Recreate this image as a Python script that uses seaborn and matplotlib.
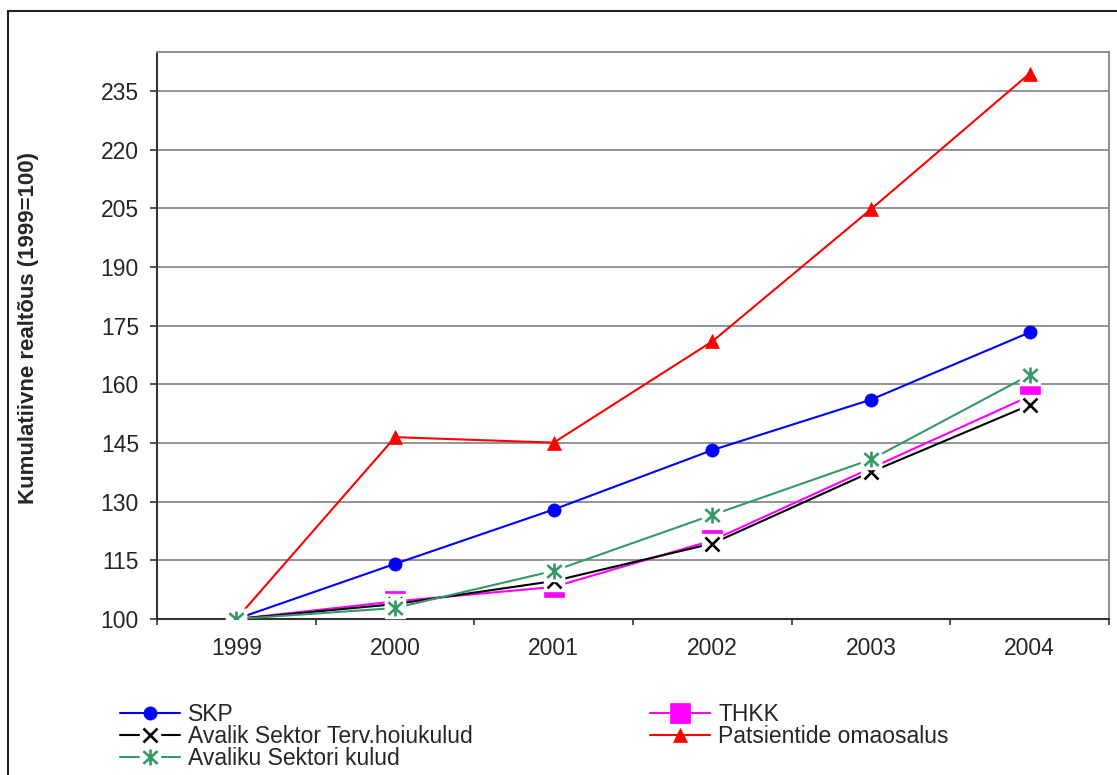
import matplotlib
matplotlib.use("Agg")
import matplotlib.pyplot as plt
from matplotlib.lines import Line2D
from matplotlib.path import Path
from matplotlib.patches import Rectangle
from matplotlib.legend_handler import HandlerBase
import seaborn as sns
import pandas as pd

# Cumulative real growth indices, 1999 = 100
years = ["1999", "2000", "2001", "2002", "2003", "2004"]
skp = [100, 114.1, 128.0, 143.2, 156.1, 173.3]
thkk = [100, 104.5, 108.2, 120.1, 138.6, 157.0]
avalik_terv = [100, 103.8, 109.7, 119.3, 137.6, 154.7]
patsiendid = [100, 146.5, 145.1, 171.0, 204.8, 239.5]
avaliku_kulud = [100, 102.8, 112.3, 126.6, 140.8, 162.4]

series_names = ["SKP", "THKK", "Avalik Sektor Terv.hoiukulud",
                "Patsientide omaosalus", "Avaliku Sektori kulud"]
series_values = [skp, thkk, avalik_terv, patsiendid, avaliku_kulud]
yticks = list(range(100, 236, 15))

colors = {
    "SKP": "#0000FF",
    "THKK": "#FF00FF",
    "Avalik Sektor Terv.hoiukulud": "#000000",
    "Patsientide omaosalus": "#FF0000",
    "Avaliku Sektori kulud": "#339966",
}

# asterisk marker: vertical stroke plus a cross
star_path = Path(
    [(0, -1), (0, 1), (-0.9, -0.8), (0.9, 0.8), (-0.9, 0.8), (0.9, -0.8)],
    [Path.MOVETO, Path.LINETO, Path.MOVETO, Path.LINETO, Path.MOVETO, Path.LINETO],
)

# marker spec: (marker, size, filled, white box behind)
marker_spec = {
    "SKP": ("o", 9.5, True, False),
    "THKK": ("s", 14, True, False),
    "Avalik Sektor Terv.hoiukulud": ("x", 10.5, False, True),
    "Patsientide omaosalus": ("^", 10.5, True, False),
    "Avaliku Sektori kulud": (star_path, 11.5, False, True),
}
BOX_SIZE = 14
LW = 1.5

df = pd.DataFrame({
    "Aasta": years * len(series_names),
    "Väärtus": [v for vals in series_values for v in vals],
    "Seeria": [n for n in series_names for _ in years],
})

sns.set_style("white")
plt.rcParams["font.family"] = ["Liberation Sans", "DejaVu Sans"]

fig = plt.figure(figsize=(11.17, 7.75), dpi=100)
ax = fig.add_axes([157 / 1117, 1 - 619 / 775, (1109 - 157) / 1117, (619 - 52) / 775])

sns.lineplot(data=df, x="Aasta", y="Väärtus", hue="Seeria", palette=colors,
             hue_order=series_names, linewidth=LW, sort=False, legend=False,
             ax=ax, zorder=3)


def marker_kwargs(name):
    mk, ms, filled, _ = marker_spec[name]
    c = colors[name]
    if filled:
        return dict(marker=mk, markersize=ms, markerfacecolor=c, markeredgecolor=c,
                    markeredgewidth=0.5)
    return dict(marker=mk, markersize=ms, markerfacecolor="none", markeredgecolor=c,
                markeredgewidth=1.9)


z = 4
for name, vals in zip(series_names, series_values):
    if marker_spec[name][3]:
        ax.plot(years, vals, ls="none", marker="s", markersize=BOX_SIZE,
                markerfacecolor="white", markeredgecolor="white", zorder=z)
        z += 0.1
    ax.plot(years, vals, ls="none", zorder=z, **marker_kwargs(name))
    z += 0.1

ax.set_xlim(-0.5, len(years) - 0.5)
ax.set_ylim(100, 245)
ax.set_yticks(yticks)
ax.set_xlabel("")
ax.set_ylabel("")

ax.yaxis.grid(True, color="#808080", linewidth=1.2)
ax.xaxis.grid(False)
ax.set_axisbelow(True)

for side in ("top", "right"):
    ax.spines[side].set_color("#909090")
    ax.spines[side].set_linewidth(1.5)
for side in ("left", "bottom"):
    ax.spines[side].set_color("#333333")
    ax.spines[side].set_linewidth(1.5)

ax.tick_params(axis="y", which="major", direction="out", length=5, width=1.2,
               color="#333333", labelsize=16.5, pad=8, left=True)
ax.tick_params(axis="x", which="major", length=0, labelsize=16.5, pad=13, bottom=True)
ax.set_xticks([i - 0.5 for i in range(len(years) + 1)], minor=True)
ax.tick_params(axis="x", which="minor", direction="out", length=4.5, width=1.2,
               color="#333333", bottom=True)

fig.text(29 / 1117, 1 - 328 / 775, "Kumulatiivne realtõus (1999=100)",
         rotation=90, ha="center", va="center", fontsize=16, fontweight="bold")


class SeriesHandler(HandlerBase):
    """Legend key: line across the key with the series marker in the middle."""

    def __init__(self, name):
        super().__init__()
        self.name = name

    def create_artists(self, legend, orig_handle, xdescent, ydescent, width,
                       height, fontsize, trans):
        c = colors[self.name]
        y = height / 2 - ydescent
        xm = width / 2 - xdescent
        arts = [Line2D([-xdescent, width - xdescent], [y, y], color=c, lw=LW)]
        if marker_spec[self.name][3]:
            arts.append(Line2D([xm], [y], ls="none", marker="s", markersize=BOX_SIZE,
                               markerfacecolor="white", markeredgecolor="white"))
        arts.append(Line2D([xm], [y], ls="none", **marker_kwargs(self.name)))
        for a in arts:
            a.set_transform(trans)
        return arts


legend_order = ["SKP", "Avalik Sektor Terv.hoiukulud", "Avaliku Sektori kulud",
                "THKK", "Patsientide omaosalus"]
handles = {n: Line2D([], [], color=colors[n]) for n in legend_order}
fig.legend([handles[n] for n in legend_order], legend_order,
           handler_map={handles[n]: SeriesHandler(n) for n in legend_order},
           loc="upper left", bbox_to_anchor=(120 / 1117, 1 - 703 / 775),
           ncol=2, frameon=False, fontsize=16.5, handlelength=2.62,
           handletextpad=0.35, labelspacing=-0.05, columnspacing=7.75,
           borderpad=0, borderaxespad=0)

# chart area frame
fig.patches.append(Rectangle((8 / 1117, -0.1), 1.2, (775 - 11) / 775 + 0.1,
                             transform=fig.transFigure, fill=False,
                             edgecolor="#222222", linewidth=1.5, clip_on=False))

fig.savefig("out.png", dpi=100)
